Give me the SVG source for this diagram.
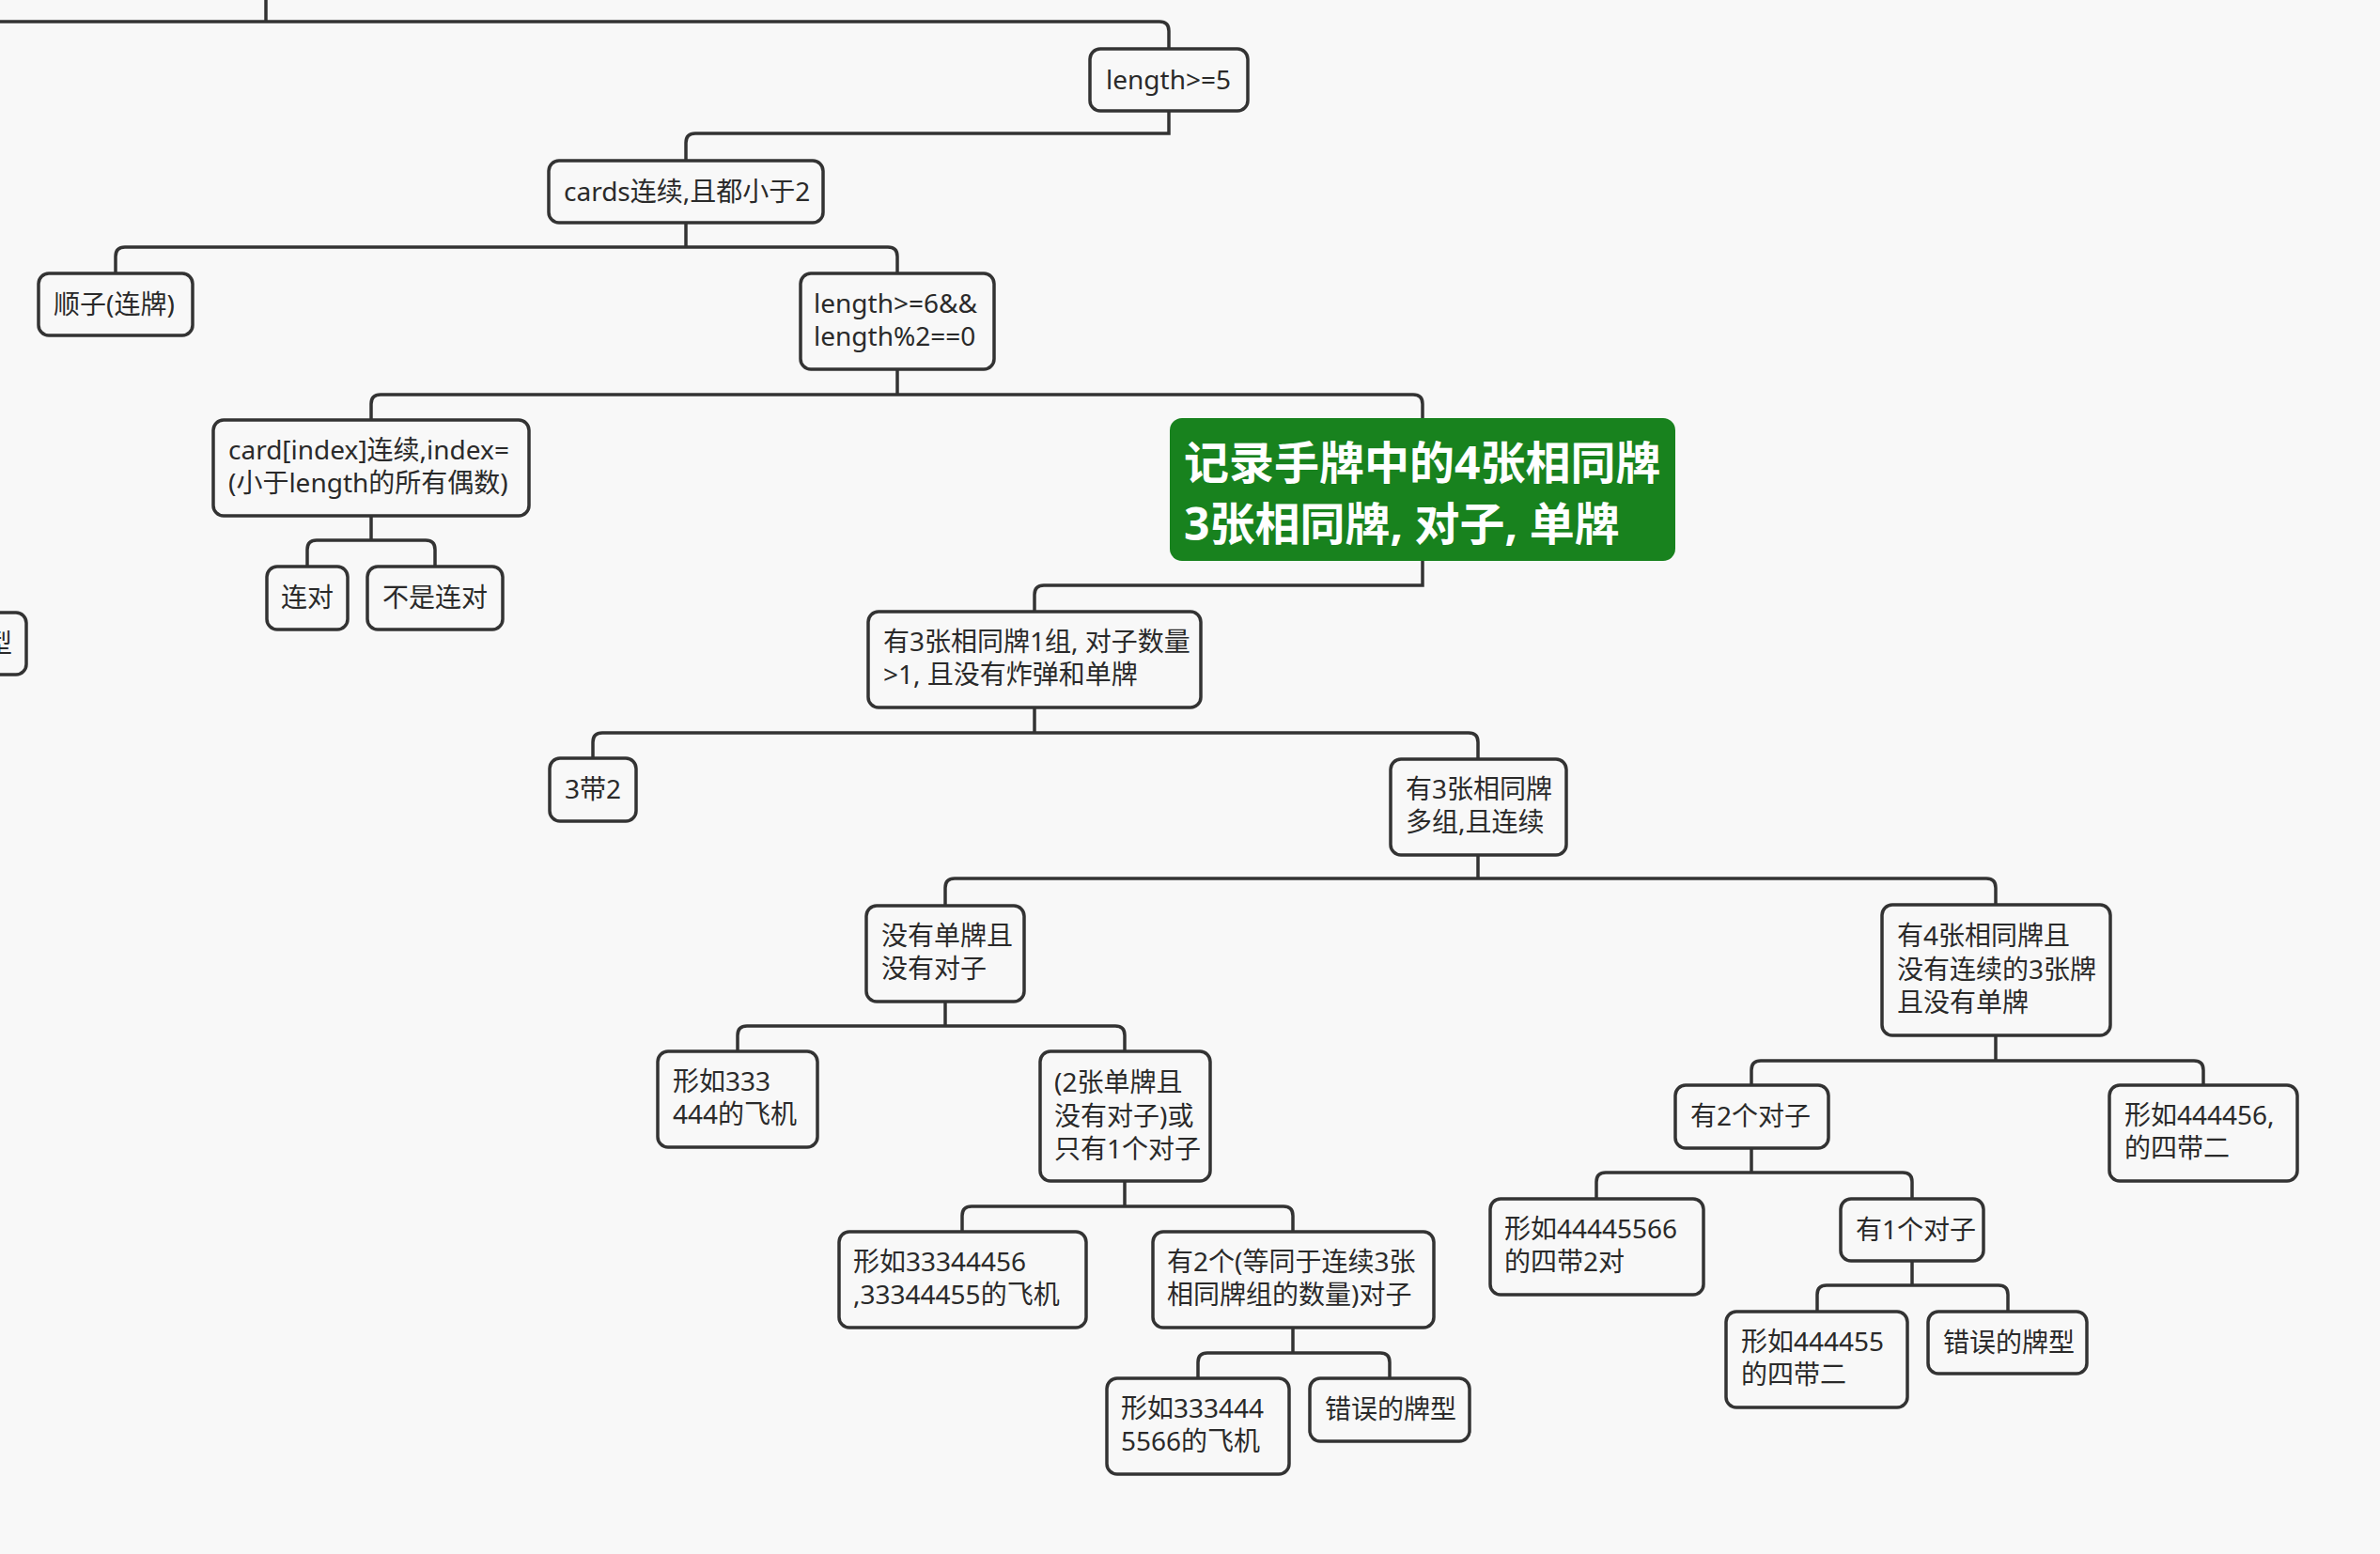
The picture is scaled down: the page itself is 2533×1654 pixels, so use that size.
<svg xmlns="http://www.w3.org/2000/svg" width="2533" height="1654" viewBox="0 0 2533 1654">
<style>
.bg{fill:#f8f8f8}
.box{fill:#f8f8f8;stroke:#333;stroke-width:3.5}
.main{fill:#18821e}
.t{font-family:"Noto Sans","Noto Sans CJK SC",sans-serif;font-size:28px;fill:#2a2a2a}
.mt{font-family:"Noto Sans","Noto Sans CJK SC",sans-serif;font-size:48px;font-weight:bold;fill:#ffffff}
.c{fill:none;stroke:#333;stroke-width:3.5}
</style>
<rect class="bg" x="0" y="0" width="2533" height="1654"/>
<g id="connectors">
<path class="c" d="M 283 0 V 23"/>
<path class="c" d="M 0 23 H 1234 Q 1244 23 1244 33 V 52"/>
<path class="c" d="M 1244 118 V 142 H 740 Q 730 142 730 152 V 171"/>
<path class="c" d="M 730 237 V 263"/>
<path class="c" d="M 730 263 H 133 Q 123 263 123 273 V 291"/>
<path class="c" d="M 730 263 H 945 Q 955 263 955 273 V 291"/>
<path class="c" d="M 955 393 V 420"/>
<path class="c" d="M 955 420 H 405 Q 395 420 395 430 V 447"/>
<path class="c" d="M 955 420 H 1504 Q 1514 420 1514 430 V 445"/>
<path class="c" d="M 395 549 V 575"/>
<path class="c" d="M 395 575 H 337 Q 327 575 327 585 V 603"/>
<path class="c" d="M 395 575 H 453 Q 463 575 463 585 V 603"/>
<path class="c" d="M 1514 597 V 623 H 1111 Q 1101 623 1101 633 V 651"/>
<path class="c" d="M 1101 753 V 780"/>
<path class="c" d="M 1101 780 H 641 Q 631 780 631 790 V 807"/>
<path class="c" d="M 1101 780 H 1563 Q 1573 780 1573 790 V 808"/>
<path class="c" d="M 1573 910 V 935"/>
<path class="c" d="M 1573 935 H 1016 Q 1006 935 1006 945 V 964"/>
<path class="c" d="M 1573 935 H 2114 Q 2124 935 2124 945 V 963"/>
<path class="c" d="M 1006 1066 V 1092"/>
<path class="c" d="M 1006 1092 H 795 Q 785 1092 785 1102 V 1119"/>
<path class="c" d="M 1006 1092 H 1187 Q 1197 1092 1197 1102 V 1119"/>
<path class="c" d="M 1197 1257 V 1284"/>
<path class="c" d="M 1197 1284 H 1034 Q 1024 1284 1024 1294 V 1311"/>
<path class="c" d="M 1197 1284 H 1366 Q 1376 1284 1376 1294 V 1311"/>
<path class="c" d="M 1376 1413 V 1440"/>
<path class="c" d="M 1376 1440 H 1285 Q 1275 1440 1275 1450 V 1467"/>
<path class="c" d="M 1376 1440 H 1469 Q 1479 1440 1479 1450 V 1467"/>
<path class="c" d="M 2124 1102 V 1129"/>
<path class="c" d="M 2124 1129 H 1874 Q 1864 1129 1864 1139 V 1155"/>
<path class="c" d="M 2124 1129 H 2335 Q 2345 1129 2345 1139 V 1155"/>
<path class="c" d="M 1864 1222 V 1248"/>
<path class="c" d="M 1864 1248 H 1709 Q 1699 1248 1699 1258 V 1276"/>
<path class="c" d="M 1864 1248 H 2025 Q 2035 1248 2035 1258 V 1276"/>
<path class="c" d="M 2035 1342 V 1368"/>
<path class="c" d="M 2035 1368 H 1944 Q 1934 1368 1934 1378 V 1396"/>
<path class="c" d="M 2035 1368 H 2127 Q 2137 1368 2137 1378 V 1396"/>
</g>
<g id="n-len5"><rect class="box" x="1160" y="52" width="168" height="66" rx="11"/><text class="t" x="1177" y="95">length&gt;=5</text></g>
<g id="n-cards"><rect class="box" x="584" y="171" width="292" height="66" rx="11"/><text class="t" x="600" y="214">cards连续,且都小于2</text></g>
<g id="n-shunzi"><rect class="box" x="41" y="291" width="164" height="66" rx="11"/><text class="t" x="57" y="334">顺子(连牌)</text></g>
<g id="n-len6"><rect class="box" x="852" y="291" width="206" height="102" rx="11"/><text class="t" x="866" y="333">length&gt;=6&amp;&amp;</text><text class="t" x="866" y="368">length%2==0</text></g>
<g id="n-cardidx"><rect class="box" x="227" y="447" width="336" height="102" rx="11"/><text class="t" x="243" y="489">card[index]连续,index=</text><text class="t" x="243" y="524">(小于length的所有偶数)</text></g>
<g id="n-main"><rect class="main" x="1245" y="445" width="538" height="152" rx="13"/><text class="mt" x="1260" y="510">记录手牌中的4张相同牌</text><text class="mt" x="1260" y="575">3张相同牌, 对子, 单牌</text></g>
<g id="n-liandui"><rect class="box" x="284" y="603" width="86" height="67" rx="11"/><text class="t" x="299" y="646">连对</text></g>
<g id="n-bushiliandui"><rect class="box" x="391" y="603" width="144" height="67" rx="11"/><text class="t" x="407" y="646">不是连对</text></g>
<g id="n-left"><rect class="box" x="-150" y="652" width="178" height="66" rx="11"/><text class="t" x="-15" y="695">型</text></g>
<g id="n-three1"><rect class="box" x="924" y="651" width="354" height="102" rx="11"/><text class="t" x="940" y="693">有3张相同牌1组, 对子数量</text><text class="t" x="940" y="728">&gt;1, 且没有炸弹和单牌</text></g>
<g id="n-3dai2"><rect class="box" x="585" y="807" width="92" height="67" rx="11"/><text class="t" x="601" y="850">3带2</text></g>
<g id="n-threemulti"><rect class="box" x="1480" y="808" width="187" height="102" rx="11"/><text class="t" x="1496" y="850">有3张相同牌</text><text class="t" x="1496" y="885">多组,且连续</text></g>
<g id="n-nosingle"><rect class="box" x="922" y="964" width="168" height="102" rx="11"/><text class="t" x="938" y="1006">没有单牌且</text><text class="t" x="938" y="1041">没有对子</text></g>
<g id="n-four"><rect class="box" x="2003" y="963" width="243" height="139" rx="11"/><text class="t" x="2019" y="1006">有4张相同牌且</text><text class="t" x="2019" y="1041.5">没有连续的3张牌</text><text class="t" x="2019" y="1077">且没有单牌</text></g>
<g id="n-333"><rect class="box" x="700" y="1119" width="170" height="102" rx="11"/><text class="t" x="716" y="1161">形如333</text><text class="t" x="716" y="1196">444的飞机</text></g>
<g id="n-2single"><rect class="box" x="1107" y="1119" width="181" height="138" rx="11"/><text class="t" x="1122" y="1162">(2张单牌且</text><text class="t" x="1122" y="1197.5">没有对子)或</text><text class="t" x="1122" y="1233">只有1个对子</text></g>
<g id="n-33344456"><rect class="box" x="893" y="1311" width="263" height="102" rx="11"/><text class="t" x="908" y="1353">形如33344456</text><text class="t" x="908" y="1388">,33344455的飞机</text></g>
<g id="n-2pair-eq"><rect class="box" x="1227" y="1311" width="299" height="102" rx="11"/><text class="t" x="1242" y="1353">有2个(等同于连续3张</text><text class="t" x="1242" y="1388">相同牌组的数量)对子</text></g>
<g id="n-333444"><rect class="box" x="1178" y="1467" width="194" height="102" rx="11"/><text class="t" x="1193" y="1509">形如333444</text><text class="t" x="1193" y="1544">5566的飞机</text></g>
<g id="n-err1"><rect class="box" x="1394" y="1467" width="170" height="67" rx="11"/><text class="t" x="1410" y="1510">错误的牌型</text></g>
<g id="n-2pair"><rect class="box" x="1783" y="1155" width="163" height="67" rx="11"/><text class="t" x="1799" y="1198">有2个对子</text></g>
<g id="n-444456"><rect class="box" x="2245" y="1155" width="200" height="102" rx="11"/><text class="t" x="2261" y="1197">形如444456,</text><text class="t" x="2261" y="1232">的四带二</text></g>
<g id="n-44445566"><rect class="box" x="1586" y="1276" width="227" height="102" rx="11"/><text class="t" x="1601" y="1318">形如44445566</text><text class="t" x="1601" y="1353">的四带2对</text></g>
<g id="n-1pair"><rect class="box" x="1959" y="1276" width="152" height="66" rx="11"/><text class="t" x="1975" y="1319">有1个对子</text></g>
<g id="n-444455"><rect class="box" x="1837" y="1396" width="193" height="102" rx="11"/><text class="t" x="1853" y="1438">形如444455</text><text class="t" x="1853" y="1473">的四带二</text></g>
<g id="n-err2"><rect class="box" x="2052" y="1396" width="169" height="66" rx="11"/><text class="t" x="2068" y="1439">错误的牌型</text></g>
</svg>
